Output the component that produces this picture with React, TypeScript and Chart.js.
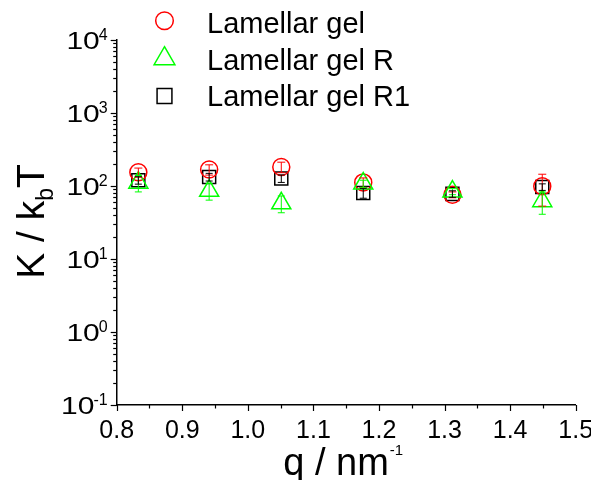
import React, { useEffect, useRef } from "react";
import { Chart, registerables } from "chart.js";

Chart.register(...registerables);

// ---------- data ----------
const qValues = [0.833, 0.941, 1.051, 1.176, 1.312, 1.449];

const gelK = [154, 168, 182, 112, 76, 99];
const gelErr = [22, 27, 30, 17, 7, 46];

const gelRK = [111, 86, 58, 108, 84, 62];
const gelRErr = [28, 22, 15, 12, 8, 21];

const gelR1K = [120, 133, 127, 80, 78, 97];
const gelR1Err = [14, 16, 15, 12, 8, 10];

const seriesNames = ["Lamellar gel", "Lamellar gel R", "Lamellar gel R1"];
const xTickValues = [0.8, 0.9, 1.0, 1.1, 1.2, 1.3, 1.4, 1.5];
const yTickExponents = [-1, 0, 1, 2, 3, 4];
const xTitle = "q / nm";
const xTitleSup = "-1";
const yTitleMain = "K / k";
const yTitleSub = "b";
const yTitleEnd = "T";

const FONT = '"Liberation Sans", Arial, sans-serif';

const series = [
  { name: seriesNames[0], values: gelK, errors: gelErr, color: "#ff0000", style: "circle", radius: 8.5, cap: 4, order: 1 },
  { name: seriesNames[1], values: gelRK, errors: gelRErr, color: "#00ff00", style: "triangle", radius: 11, cap: 3.5, order: 0 },
  { name: seriesNames[2], values: gelR1K, errors: gelR1Err, color: "#000000", style: "rect", radius: 9.2, cap: 3.5, order: 2 },
];

function drawMarker(ctx: CanvasRenderingContext2D, style: string, x: number, y: number, r: number) {
  ctx.beginPath();
  if (style === "circle") {
    ctx.arc(x, y, r, 0, Math.PI * 2);
  } else if (style === "triangle") {
    ctx.moveTo(x, y - r);
    ctx.lineTo(x + r * Math.sin(Math.PI / 3), y + r / 2);
    ctx.lineTo(x - r * Math.sin(Math.PI / 3), y + r / 2);
    ctx.closePath();
  } else {
    const s = Math.SQRT1_2 * r;
    ctx.rect(x - s, y - s, 2 * s, 2 * s);
  }
  ctx.stroke();
}

const decorPlugin = {
  id: "decor",
  afterDatasetsDraw(chart: any) {
    const ctx: CanvasRenderingContext2D = chart.ctx;
    const xs = chart.scales.x;
    const ys = chart.scales.y;
    // error bars
    series.forEach((s) => {
      ctx.save();
      ctx.strokeStyle = s.color;
      ctx.lineWidth = 1;
      qValues.forEach((q, i) => {
        const x = xs.getPixelForValue(q);
        const top = ys.getPixelForValue(s.values[i] + s.errors[i]);
        const bot = ys.getPixelForValue(Math.max(s.values[i] - s.errors[i], 0.11));
        ctx.beginPath();
        ctx.moveTo(x, top);
        ctx.lineTo(x, bot);
        ctx.moveTo(x - s.cap, top);
        ctx.lineTo(x + s.cap, top);
        ctx.moveTo(x - s.cap, bot);
        ctx.lineTo(x + s.cap, bot);
        ctx.stroke();
      });
      ctx.restore();
    });
  },
  afterDraw(chart: any) {
    const ctx: CanvasRenderingContext2D = chart.ctx;
    const xs = chart.scales.x;
    const ys = chart.scales.y;
    const area = chart.chartArea;
    const axisX = area.left;
    const axisY = area.bottom;
    ctx.save();
    ctx.strokeStyle = "#000";
    ctx.lineWidth = 1.2;
    // y ticks (log, major + minor)
    for (let e = -1; e <= 4; e++) {
      for (let m = 1; m <= 9; m++) {
        const v = m * Math.pow(10, e);
        if (v > 10000 * 1.0001) continue;
        const y = Math.round(ys.getPixelForValue(v)) + 0.5;
        const len = m === 1 ? 6 : 3.5;
        ctx.beginPath();
        ctx.moveTo(axisX - len, y);
        ctx.lineTo(axisX, y);
        ctx.stroke();
      }
    }
    // x ticks, major 0.1 and minor 0.05
    for (let k = 0; k <= 14; k++) {
      const v = 0.8 + k * 0.05;
      const x = Math.round(xs.getPixelForValue(v)) + 0.5;
      const len = k % 2 === 0 ? 6 : 3.5;
      ctx.beginPath();
      ctx.moveTo(x, axisY);
      ctx.lineTo(x, axisY + len);
      ctx.stroke();
    }
    // x tick labels
    ctx.fillStyle = "#000";
    ctx.textBaseline = "alphabetic";
    ctx.textAlign = "center";
    ctx.font = "25px " + FONT;
    xTickValues.forEach((v) => {
      ctx.fillText(v.toFixed(1), xs.getPixelForValue(v), axisY + 33);
    });
    // y tick labels 10^n
    yTickExponents.forEach((e) => {
      const y = ys.getPixelForValue(Math.pow(10, e));
      const sup = e < 0 ? "-" + Math.abs(e) : String(e);
      ctx.font = "16px " + FONT;
      ctx.textAlign = "right";
      const right = axisX - 9;
      const supW = ctx.measureText(sup).width;
      ctx.fillText(sup, right, y);
      ctx.save();
      ctx.font = "24px " + FONT;
      const tenRight = right - supW + 1;
      ctx.translate(tenRight, y + 8.5);
      ctx.scale(1.25, 1);
      ctx.fillText("10", 0, 0);
      ctx.restore();
    });
    // x title
    ctx.textAlign = "left";
    ctx.font = "38px " + FONT;
    const mainW = ctx.measureText(xTitle).width;
    ctx.font = "15px " + FONT;
    const supW = ctx.measureText(xTitleSup).width;
    const total = mainW + 1 + supW;
    const cx = (area.left + area.right) / 2 - 3;
    const startX = cx - total / 2;
    const baseY = 467;
    ctx.font = "38px " + FONT;
    ctx.fillText(xTitle, startX, baseY);
    ctx.font = "15px " + FONT;
    ctx.fillText(xTitleSup, startX + mainW + 1, baseY - 20);
    // y title (rotated)
    ctx.save();
    ctx.translate(35.5, (area.top + area.bottom) / 2 - 1);
    ctx.rotate(-Math.PI / 2);
    ctx.font = "39px " + FONT;
    const w1 = ctx.measureText(yTitleMain).width;
    const w3 = ctx.measureText(yTitleEnd).width;
    ctx.font = "23px " + FONT;
    const w2 = ctx.measureText(yTitleSub).width;
    const tw = w1 + w2 + w3;
    let px = -tw / 2;
    ctx.font = "39px " + FONT;
    ctx.fillText(yTitleMain, px, 0);
    px += w1;
    ctx.font = "23px " + FONT;
    ctx.fillText(yTitleSub, px, 9.5);
    px += w2;
    ctx.font = "39px " + FONT;
    ctx.fillText(yTitleEnd, px, 0);
    ctx.restore();
    // legend
    const rows = [17.5, 54, 90.5];
    const markerY = [12.7, 50.7, 88];
    series.forEach((s, i) => {
      ctx.strokeStyle = s.color;
      ctx.lineWidth = 1.5;
      drawMarker(ctx, s.style, 156.5, markerY[i], s.style === "triangle" ? 12 : s.style === "rect" ? 10.5 : 8.8);
      ctx.fillStyle = "#000";
      ctx.font = "29px " + FONT;
      ctx.textAlign = "left";
      ctx.textBaseline = "alphabetic";
      ctx.fillText(s.name, 199, rows[i] + 7.8);
    });
    ctx.restore();
  },
};

export default function App() {
  const canvasRef = useRef<HTMLCanvasElement | null>(null);

  useEffect(() => {
    if (!canvasRef.current) return;
    const chart = new Chart(canvasRef.current, {
      type: "scatter",
      data: {
        datasets: series.map((s) => ({
          label: s.name,
          data: qValues.map((q, i) => ({ x: q, y: s.values[i] })),
          pointStyle: s.style as any,
          pointRadius: s.radius,
          pointHoverRadius: s.radius,
          borderColor: s.color,
          backgroundColor: "rgba(0,0,0,0)",
          pointBorderWidth: 1.5,
          borderWidth: 1.5,
          showLine: false,
          order: s.order,
        })),
      },
      options: {
        responsive: false,
        animation: false,
        devicePixelRatio: 1,
        layout: { padding: { top: 32, right: 15.3, left: 0, bottom: 0 } },
        plugins: {
          legend: { display: false },
          tooltip: { enabled: false },
        },
        scales: {
          x: {
            type: "linear",
            min: 0.8,
            max: 1.5,
            grid: { display: false },
            border: { display: true, color: "#000", width: 1.5 },
            ticks: { display: false },
            afterFit: (scale: any) => {
              scale.height = 75;
              scale.paddingLeft = 0;
              scale.paddingRight = 0;
            },
          },
          y: {
            type: "logarithmic",
            min: 0.1,
            max: 10000,
            grid: { display: false },
            border: { display: true, color: "#000", width: 1.5 },
            ticks: { display: false },
            afterFit: (scale: any) => {
              scale.width = 108.7;
              scale.paddingTop = 0;
              scale.paddingBottom = 0;
            },
          },
        },
      },
      plugins: [decorPlugin],
    });
    return () => chart.destroy();
  }, []);

  return (
    <div style={{ width: 583, height: 472 }}>
      <canvas ref={canvasRef} width={583} height={472} style={{ display: "block" }} />
    </div>
  );
}
